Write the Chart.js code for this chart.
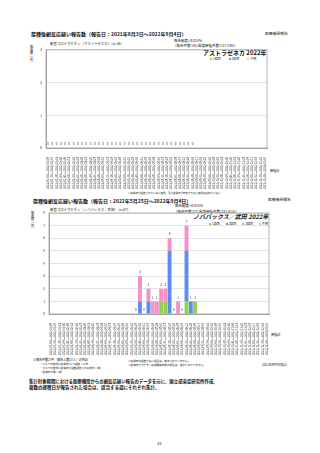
<!DOCTYPE html>
<html><head><meta charset="utf-8">
<script src="https://cdn.jsdelivr.net/npm/chart.js@4"></script>
<style>
body{margin:0;width:320px;height:453px;background:#fff;position:relative;overflow:hidden;font-family:"Noto Sans CJK JP",sans-serif;color:#111}
.t{position:absolute;white-space:nowrap;line-height:1}
.b{font-weight:bold}
.v{writing-mode:vertical-rl;text-orientation:upright}
canvas{position:absolute}
.sw{display:inline-block;width:2px;height:2px;margin-right:1px;vertical-align:middle}
</style></head><body>
<div class="t b" style="left:31px;top:31px;font-size:5px">接種後副反応疑い報告数（報告日：2021年8月3日～2022年9月4日）</div>
<div class="t" style="left:265px;top:31.5px;font-size:3.8px">医療機関報告</div>
<div class="t" style="left:174px;top:38.5px;font-size:3.5px">報告頻度=0.014%</div>
<div class="t" style="left:173px;top:44px;font-size:3.5px">（報告件数(16)/累積接種件数(117,746)）</div>
<div class="t" style="left:50px;top:41.5px;font-size:3.4px">新型コロナワクチン（アストラゼネカ）（n=16）</div>
<div class="t v" style="left:30px;top:45px;font-size:3.2px">報告数（件）</div>
<div class="t b" style="left:203px;top:50px;font-size:6px">アストラゼネカ 2022年</div>
<div id="leg1" class="t" style="left:210px;top:57.5px;font-size:3px"></div>
<div class="t" style="left:270px;top:168.5px;font-size:3.2px">接種日</div>
<div class="t" style="left:128px;top:191.5px;font-size:2.5px">※接種日が報告されていない症例、及び接種日が特定できない症例は含めていない</div>

<div class="t b" style="left:33px;top:197.5px;font-size:5px">接種後副反応疑い報告数（報告日：2022年5月25日～2022年9月4日）</div>
<div class="t" style="left:268px;top:198px;font-size:3.8px">医療機関報告</div>
<div class="t" style="left:175px;top:204px;font-size:3.5px">報告頻度=0.015%</div>
<div class="t" style="left:174px;top:210px;font-size:3.5px">（報告件数(27)/累積接種件数(181,614)）</div>
<div class="t" style="left:50px;top:207.5px;font-size:3.4px">新型コロナワクチン（ノババックス／武田）（n=27）</div>
<div class="t v" style="left:31px;top:211px;font-size:3.2px">報告数（件）</div>
<div class="t b" style="left:193px;top:214px;font-size:6px;font-style:italic">ノババックス／武田 2022年</div>
<div id="leg2" class="t" style="left:209px;top:222.5px;font-size:3px"></div>
<div class="t" style="left:271px;top:332.5px;font-size:3.2px">接種日</div>

<div class="t" style="left:33px;top:359px;font-size:3px">※報告件数27件（報告人数27人）の内訳</div>
<div class="t" style="left:40px;top:363px;font-size:2.6px">・ひとつの症例に接種日が1つ報告：27件</div>
<div class="t" style="left:40px;top:367px;font-size:2.6px">・ひとつの症例に接種日が複数報告される症例：0件</div>
<div class="t" style="left:40px;top:371px;font-size:2.6px">・接種日不明：0件</div>
<div class="t" style="left:128px;top:359.5px;font-size:2.6px">※接種日の報告がない場合は、表示されていません。</div>
<div class="t" style="left:128px;top:363.5px;font-size:2.6px">※接種日がワクチン接種開始日前の場合は、表示されていません。</div>
<div class="t" style="left:262px;top:363.5px;font-size:3px">2022年9月4日集計</div>
<div class="t b" style="left:29px;top:379px;font-size:4.4px">集計対象期間における医療機関からの副反応疑い報告のデータを元に、国立感染症研究所作成。</div>
<div class="t b" style="left:29px;top:385px;font-size:4.5px">複数の接種日が報告された場合は、該当する週にそれぞれ集計。</div>
<div class="t" style="left:157px;top:441px;font-size:4px">35</div>

<canvas id="c1" width="240" height="146" style="left:30px;top:44px"></canvas>
<canvas id="c2" width="242" height="150" style="left:30px;top:205px"></canvas>
<script>
const weekLabels = [
"2022/01/03～2022/01/09","2022/01/10～2022/01/16","2022/01/17～2022/01/23","2022/01/24～2022/01/30",
"2022/01/31～2022/02/06","2022/02/07～2022/02/13","2022/02/14～2022/02/20","2022/02/21～2022/02/27",
"2022/02/28～2022/03/06","2022/03/07～2022/03/13","2022/03/14～2022/03/20","2022/03/21～2022/03/27",
"2022/03/28～2022/04/03","2022/04/04～2022/04/10","2022/04/11～2022/04/17","2022/04/18～2022/04/24",
"2022/04/25～2022/05/01","2022/05/02～2022/05/08","2022/05/09～2022/05/15","2022/05/16～2022/05/22",
"2022/05/23～2022/05/29","2022/05/30～2022/06/05","2022/06/06～2022/06/12","2022/06/13～2022/06/19",
"2022/06/20～2022/06/26","2022/06/27～2022/07/03","2022/07/04～2022/07/10","2022/07/11～2022/07/17",
"2022/07/18～2022/07/24","2022/07/25～2022/07/31","2022/08/01～2022/08/07","2022/08/08～2022/08/14",
"2022/08/15～2022/08/21","2022/08/22～2022/08/28","2022/08/29～2022/09/04","2022/09/05～2022/09/11",
"2022/09/12～2022/09/18","2022/09/19～2022/09/25","2022/09/26～2022/10/02","2022/10/03～2022/10/09",
"2022/10/10～2022/10/16","2022/10/17～2022/10/23","2022/10/24～2022/10/30","2022/10/31～2022/11/06",
"2022/11/07～2022/11/13","2022/11/14～2022/11/20","2022/11/21～2022/11/27","2022/11/28～2022/12/04",
"2022/12/05～2022/12/11","2022/12/12～2022/12/18","2022/12/19～2022/12/25","2022/12/26～2023/01/01"];

const azTicks = [0,1,2,3];
const azDose1 = [0,0,0,0,0,0,0,0,0,0,0,0,0,0,0,0,0,0,0,0,0,0,0,0,0,0,0,0,0,0,0,0,0,0,0,null,null,null,null,null,null,null,null,null,null,null,null,null,null,null,null,null];
const azDose2 = [0,0,0,0,0,0,0,0,0,0,0,0,0,0,0,0,0,0,0,0,0,0,0,0,0,0,0,0,0,0,0,0,0,0,0,null,null,null,null,null,null,null,null,null,null,null,null,null,null,null,null,null];
const azUnknown = [0,0,0,0,0,0,0,0,0,0,0,0,0,0,0,0,0,0,0,0,0,0,0,0,0,0,0,0,0,0,0,0,0,0,0,null,null,null,null,null,null,null,null,null,null,null,null,null,null,null,null,null];

const nvTicks = [0,1,2,3,4,5,6,7,8];
const nvDose1 = [null,null,null,null,null,null,null,null,null,null,null,null,null,null,null,null,null,null,null,null,0,0,0,0,0,0,1,1,0,0,0,0,1,0,1,null,null,null,null,null,null,null,null,null,null,null,null,null,null,null,null,null];
const nvDose2 = [null,null,null,null,null,null,null,null,null,null,null,null,null,null,null,null,null,null,null,null,0,1,0,1,0,0,0,0,5,0,0,0,4,1,0,null,null,null,null,null,null,null,null,null,null,null,null,null,null,null,null,null];
const nvDose3 = [null,null,null,null,null,null,null,null,null,null,null,null,null,null,null,null,null,null,null,null,0,2,0,1,1,1,1,1,1,0,1,0,2,0,0,null,null,null,null,null,null,null,null,null,null,null,null,null,null,null,null,null];
const nvUnknown = [null,null,null,null,null,null,null,null,null,null,null,null,null,null,null,null,null,null,null,null,0,0,0,0,0,0,0,0,0,0,0,0,0,0,0,null,null,null,null,null,null,null,null,null,null,null,null,null,null,null,null,null];

const C_GREEN='#92D050', C_BLUE='#5B8DEF', C_PINK='#F78FC8', C_ORANGE='#F9C27A';
const FONT='"Noto Sans CJK JP", sans-serif';

const totalsPlugin = {
  id:'totals',
  afterDatasetsDraw(chart){
    const ctx=chart.ctx, ds=chart.data.datasets, n=chart.data.labels.length;
    ctx.save();
    ctx.font='3px '+FONT; ctx.fillStyle='#333'; ctx.textAlign='center'; ctx.textBaseline='bottom';
    for(let i=0;i<n;i++){
      let has=false,sum=0;
      ds.forEach(d=>{const v=d.data[i]; if(v!==null&&v!==undefined){has=true;sum+=v;}});
      if(!has) continue;
      const x=chart.scales.x.getPixelForValue(i);
      const y=chart.scales.y.getPixelForValue(sum);
      ctx.fillText(String(sum),x,y-2.5);
    }
    ctx.restore();
  }
};
const framePlugin = {
  id:'frame',
  afterDraw(chart){
    const a=chart.chartArea, ctx=chart.ctx;
    ctx.save(); ctx.strokeStyle='#a0a0a0'; ctx.lineWidth=0.8;
    ctx.strokeRect(a.left,a.top,a.right-a.left,a.bottom-a.top);
    ctx.restore();
  }
};

function makeChart(id, datasets, ticks, yWidth, xHeight, pad){
  return new Chart(document.getElementById(id), {
    type:'bar',
    data:{labels:weekLabels, datasets},
    options:{
      responsive:false, animation:false, devicePixelRatio:1,
      layout:{padding:pad},
      plugins:{legend:{display:false}, tooltip:{enabled:false}},
      datasets:{bar:{categoryPercentage:1, barPercentage:0.92}},
      scales:{
        x:{stacked:true, grid:{display:false}, border:{color:'#a0a0a0'},
           ticks:{autoSkip:false, minRotation:90, maxRotation:90, font:{size:2.8, family:FONT}, color:'#333', padding:1},
           afterFit(s){s.height=xHeight;}},
        y:{stacked:true, min:0, max:ticks[ticks.length-1],
           afterBuildTicks(s){s.ticks=ticks.map(v=>({value:v}));},
           grid:{color:'#dcdcdc', lineWidth:0.8, drawTicks:false}, border:{color:'#a0a0a0'},
           ticks:{font:{size:3.2, family:FONT}, color:'#333', padding:4},
           afterFit(s){s.width=yWidth;}}
      }
    },
    plugins:[totalsPlugin, framePlugin]
  });
}

const ds1=[
  {label:'1回目', data:azDose1, backgroundColor:C_GREEN},
  {label:'2回目', data:azDose2, backgroundColor:C_BLUE},
  {label:'不明', data:azUnknown, backgroundColor:C_ORANGE}];
const ds2=[
  {label:'1回目', data:nvDose1, backgroundColor:C_GREEN},
  {label:'2回目', data:nvDose2, backgroundColor:C_BLUE},
  {label:'3回目', data:nvDose3, backgroundColor:C_PINK},
  {label:'不明', data:nvUnknown, backgroundColor:C_ORANGE}];

makeChart('c1', ds1, azTicks, 16, 42, {top:4,right:3,left:0,bottom:0});
makeChart('c2', ds2, nvTicks, 19, 41, {top:8,right:3,left:0,bottom:0});

function legend(elId, ds, gap){
  const el=document.getElementById(elId);
  el.innerHTML=ds.map(d=>'<span style="margin-right:'+gap+'px"><span class="sw" style="background:'+d.backgroundColor+'"></span>'+d.label+'</span>').join('');
}
legend('leg1', ds1, 8);
legend('leg2', ds2, 6);
</script>
</body></html>
